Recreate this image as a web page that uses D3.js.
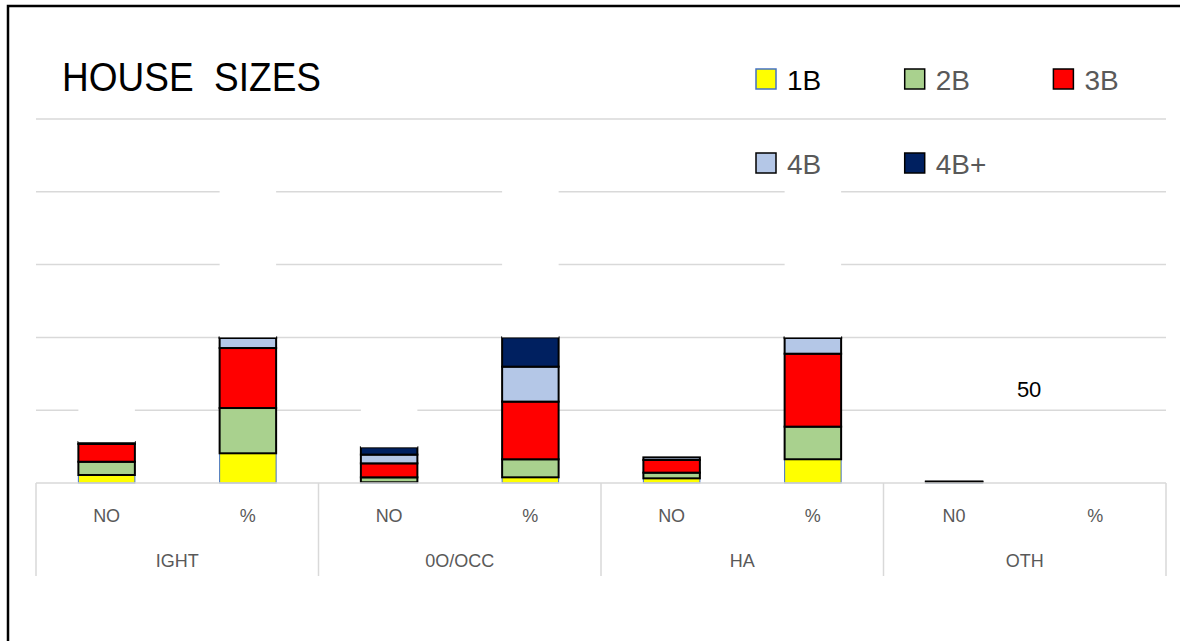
<!DOCTYPE html>
<html>
<head>
<meta charset="utf-8">
<script src="https://cdn.jsdelivr.net/npm/d3@7"></script>
<style>
  body { margin: 0; background: #fff; }
  svg { display: block; font-family: "Liberation Sans", Arial, sans-serif; }
</style>
</head>
<body>
<script>
// groups along the bottom and the bar under each of them
var groups = ["IGHT", "0O/OCC", "HA", "OTH"];
var subLabels = ["NO", "%", "NO", "%", "NO", "%", "N0", "%"];

// series values, one per bar
var oneB   = [5.5, 20.4, 0.5, 3.9, 3.2, 16.3, 0.5, 0];
var twoB   = [9.1, 31.1, 3.4, 12.4, 3.9, 22.4, 0.3, 0];
var threeB = [12.2, 41.2, 9.6, 39.6, 8.7, 50.1, 0.2, 0];
var fourB  = [1.2, 6.9, 6.0, 24.0, 1.8, 10.8, 0, 0];
var fourBp = [0, 0.4, 5.0, 20.1, 0, 0.4, 0, 0];
// white series stacked on top, hides the gridlines behind it
var blank  = [43, 122, 46, 122, 0, 122, 0, 0];

var yTicks = [50, 100, 150, 200, 250];
var dataLabel = {text: "50", bar: 6, value: 64.5};

var seriesNames = ["1B", "2B", "3B", "4B", "4B+", "blank"];
var seriesVals = [oneB, twoB, threeB, fourB, fourBp, blank];
var fills = ["#ffff00", "#a9d18e", "#ff0000", "#b4c7e7", "#002060", "#ffffff"];
var strokes = ["#4472c4", "#000", "#000", "#000", "#000", "none"];

var width = 1180, height = 641;
var plotLeft = 36, plotRight = 1166, plotBase = 483, plotTop = 119;

var svg = d3.select("body").append("svg")
  .attr("width", width).attr("height", height);

// outer frame
svg.append("rect")
  .attr("x", 8).attr("y", 6).attr("width", 1300).attr("height", 800)
  .attr("fill", "none").attr("stroke", "#000").attr("stroke-width", 2.5);

var rows = subLabels.map(function(s, i) {
  var r = {id: i, label: s};
  seriesNames.forEach(function(n, k) { r[n] = seriesVals[k][i]; });
  return r;
});

var x = d3.scaleBand()
  .domain(rows.map(function(d) { return d.id; }))
  .range([plotLeft, plotRight])
  .paddingInner(0.6).paddingOuter(0.3);

var y = d3.scaleLinear().domain([0, 250]).range([plotBase, plotTop]);

// gridlines
svg.append("g").selectAll("line").data(yTicks).enter()
  .append("line")
  .attr("x1", plotLeft).attr("x2", plotRight)
  .attr("y1", function(d) { return y(d); })
  .attr("y2", function(d) { return y(d); })
  .attr("stroke", "#d9d9d9").attr("stroke-width", 1.5);

var stack = d3.stack().keys(seriesNames);
var layers = stack(rows);

svg.append("g").selectAll("g").data(layers).enter()
  .append("g")
  .attr("fill", function(d, i) { return fills[i]; })
  .attr("stroke", function(d, i) { return strokes[i]; })
  .attr("stroke-width", function(d, i) { return i == 0 ? 1 : 2; })
  .selectAll("rect").data(function(d) { return d.filter(function(p) { return p[1] - p[0] > 0; }); })
  .enter()
  .append("rect")
  .attr("x", function(d) { return x(d.data.id); })
  .attr("width", x.bandwidth())
  .attr("y", function(d) { return y(d[1]); })
  .attr("height", function(d) { return y(d[0]) - y(d[1]); });

// category axis (two levels)
var axis = svg.append("g").attr("stroke", "#d9d9d9").attr("stroke-width", 1.5);
axis.append("line")
  .attr("x1", plotLeft).attr("x2", plotRight).attr("y1", plotBase).attr("y2", plotBase);

var groupW = (plotRight - plotLeft) / groups.length;
var edges = d3.range(groups.length + 1).map(function(i) { return plotLeft + i * groupW; });
axis.selectAll("line.div").data(edges).enter()
  .append("line").attr("class", "div")
  .attr("x1", function(d) { return d; }).attr("x2", function(d) { return d; })
  .attr("y1", plotBase).attr("y2", 576);

svg.append("g").selectAll("text").data(rows).enter()
  .append("text")
  .attr("x", function(d) { return x(d.id) + x.bandwidth() / 2; })
  .attr("y", 522)
  .attr("text-anchor", "middle")
  .attr("font-size", 18).attr("fill", "#595959")
  .text(function(d) { return d.label; });

svg.append("g").selectAll("text").data(groups).enter()
  .append("text")
  .attr("x", function(d, i) { return plotLeft + (i + 0.5) * groupW; })
  .attr("y", 567)
  .attr("text-anchor", "middle")
  .attr("font-size", 18).attr("fill", "#595959")
  .text(function(d) { return d; });

// lone data label
svg.append("text")
  .attr("x", x(dataLabel.bar) + x.bandwidth() / 2 + 75)
  .attr("y", y(dataLabel.value))
  .attr("dy", "0.35em")
  .attr("text-anchor", "middle")
  .attr("font-size", 22).attr("fill", "#000")
  .text(dataLabel.text);

// title
svg.append("text")
  .attr("x", 62).attr("y", 91)
  .attr("font-size", 40)
  .attr("textLength", 259).attr("lengthAdjust", "spacingAndGlyphs")
  .attr("xml:space", "preserve")
  .style("white-space", "pre")
  .text("HOUSE  SIZES");

// legend, three per row
var legend = svg.append("g").selectAll("g").data(seriesNames.slice(0, 5)).enter()
  .append("g")
  .attr("transform", function(d, i) {
    return "translate(" + (756 + (i % 3) * 148.7) + "," + (69 + Math.floor(i / 3) * 84) + ")";
  });

legend.append("rect")
  .attr("width", 20).attr("height", 20)
  .attr("fill", function(d, i) { return fills[i]; })
  .attr("stroke", function(d, i) { return strokes[i]; })
  .attr("stroke-width", 1.5);

legend.append("text")
  .attr("x", 31).attr("y", 21)
  .attr("font-size", 28)
  .attr("fill", function(d, i) { return i == 0 ? "#000" : "#595959"; })
  .text(function(d) { return d; });
</script>
</body>
</html>
